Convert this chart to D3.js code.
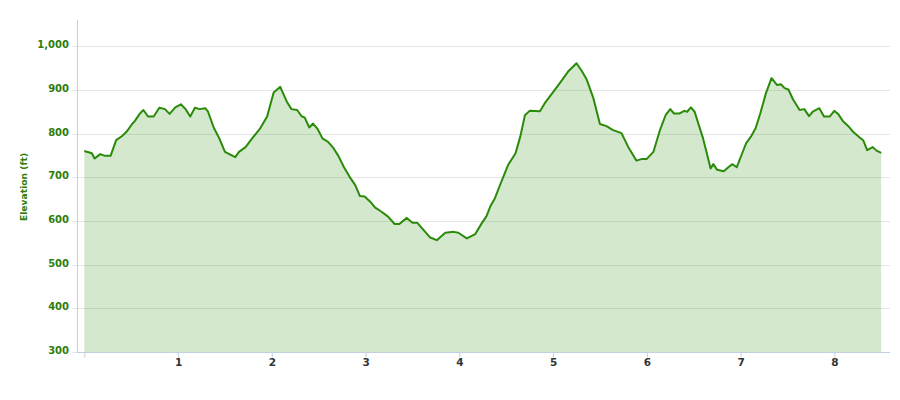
<!DOCTYPE html>
<html>
<head>
<meta charset="utf-8">
<script src="https://cdn.jsdelivr.net/npm/d3@7"></script>
<style>
  html, body { margin: 0; padding: 0; background: #fff; }
  svg { display: block; }
</style>
</head>
<body>
<svg id="chart" width="900" height="400"></svg>
<script>
// Distance (miles)
const distance = [
  0.00, 0.08, 0.11, 0.17, 0.22, 0.28, 0.34, 0.40, 0.45, 0.51, 0.54, 0.59, 0.63, 0.68, 0.74, 0.80, 0.86, 0.91, 0.97,
  1.03, 1.08, 1.13, 1.18, 1.23, 1.29, 1.32, 1.38, 1.44, 1.50, 1.61, 1.65, 1.72, 1.79, 1.87, 1.95,
  2.02, 2.09, 2.16, 2.21, 2.27, 2.32, 2.35, 2.40, 2.44, 2.49, 2.54, 2.60, 2.66, 2.71, 2.77, 2.83, 2.89, 2.94, 2.99,
  3.05, 3.10, 3.17, 3.24, 3.31, 3.36, 3.44, 3.50, 3.55, 3.62, 3.69, 3.76, 3.85, 3.94, 3.99,
  4.08, 4.17, 4.24, 4.29, 4.33, 4.38, 4.43, 4.52, 4.60, 4.65, 4.70, 4.75, 4.86, 4.91, 4.99,
  5.07, 5.16, 5.25, 5.31, 5.36, 5.43, 5.50, 5.57, 5.64, 5.73, 5.80, 5.89, 5.95,
  6.00, 6.07, 6.14, 6.20, 6.25, 6.29, 6.35, 6.40, 6.43, 6.47, 6.51, 6.56, 6.60, 6.64, 6.68, 6.71, 6.75, 6.82, 6.87, 6.91, 6.96,
  7.01, 7.06, 7.11, 7.16, 7.21, 7.27, 7.33, 7.39, 7.43, 7.47, 7.51, 7.56, 7.63, 7.68, 7.73, 7.77, 7.84, 7.89, 7.95,
  8.00, 8.04, 8.09, 8.15, 8.20, 8.27, 8.31, 8.35, 8.41, 8.45, 8.50
];
// Elevation (ft)
const elevation = [
  760, 755, 743, 753, 749, 749, 785, 794, 804, 822, 829, 845, 854, 839, 839, 859, 856, 845, 860,
  867, 856, 839, 859, 856, 858, 850, 814, 789, 758, 746, 758, 769, 789, 810, 839,
  894, 907, 873, 856, 854, 839, 837, 814, 823, 810, 789, 781, 766, 749, 723, 701, 682, 657, 656,
  644, 631, 621, 610, 593, 593, 607, 596, 596, 579, 562, 556, 573, 575, 573,
  560, 570, 595, 611, 633, 652, 680, 728, 755, 793, 842, 852, 851, 869, 892,
  915, 942, 961, 942, 923, 881, 822, 817, 808, 801, 770, 738, 742,
  742, 758, 808, 842, 856, 846, 846, 852, 850, 860, 850, 816, 789, 755, 720, 730, 717, 714, 723, 730, 723,
  751, 778, 793, 812, 846, 892, 927, 911, 913, 904, 901, 878, 854, 856, 840, 850, 858, 839, 839,
  852, 845, 829, 817, 804, 791, 784, 762, 769, 761, 756
];
const xTicks = [0, 1, 2, 3, 4, 5, 6, 7, 8];
const xTickLabels = ["", "1", "2", "3", "4", "5", "6", "7", "8"];
const yTicks = [300, 400, 500, 600, 700, 800, 900, 1000];
const yTitle = "Elevation (ft)";

const data = distance.map((d, i) => ({ x: d, y: elevation[i] }));

const svg = d3.select("#chart");
const plotLeft = 77, plotRight = 890, plotTop = 20, plotBottom = 352;

const x = d3.scaleLinear().domain([0, 8.5]).range([84.3, 881.2]);
const y = d3.scaleLinear().domain([300, 1060]).range([plotBottom, plotTop]);

const green = "#2a8a0a";
const labelGreen = "#2e7d0a";
const axisColor = "#c0d0e0";
const font = "'DejaVu Sans', Verdana, sans-serif";

// gridlines
svg.append("g")
  .selectAll("line")
  .data(yTicks)
  .join("line")
  .attr("x1", plotLeft - 5)
  .attr("x2", plotRight)
  .attr("y1", d => Math.round(y(d)) + 0.5)
  .attr("y2", d => Math.round(y(d)) + 0.5)
  .attr("stroke", "#e6e6e6")
  .attr("stroke-width", 1);

// area
const area = d3.area().x(d => x(d.x)).y0(y(300)).y1(d => y(d.y)).curve(d3.curveLinear);
svg.append("path")
  .datum(data)
  .attr("d", area)
  .attr("fill", green)
  .attr("fill-opacity", 0.2);

// line
const line = d3.line().x(d => x(d.x)).y(d => y(d.y)).curve(d3.curveLinear);
svg.append("path")
  .datum(data)
  .attr("d", line)
  .attr("fill", "none")
  .attr("stroke", green)
  .attr("stroke-width", 2)
  .attr("stroke-linejoin", "round");

// y axis line
svg.append("line")
  .attr("x1", plotLeft + 0.5).attr("x2", plotLeft + 0.5)
  .attr("y1", plotTop).attr("y2", plotBottom)
  .attr("stroke", axisColor);

// x axis
const xAxis = d3.axisBottom(x)
  .tickValues(xTicks)
  .tickFormat((d, i) => xTickLabels[i])
  .tickSize(5)
  .tickPadding(1);
const gx = svg.append("g")
  .attr("transform", `translate(0,${plotBottom + 0.5})`)
  .call(xAxis);
gx.select(".domain").remove();
gx.selectAll(".tick line").attr("stroke", axisColor);
gx.selectAll(".tick text")
  .attr("fill", "#333")
  .style("font-family", font)
  .style("font-size", "10.5px")
  .style("font-weight", "bold");
svg.append("line")
  .attr("x1", plotLeft).attr("x2", plotRight)
  .attr("y1", plotBottom + 0.5).attr("y2", plotBottom + 0.5)
  .attr("stroke", axisColor);

// y axis labels
const yAxis = d3.axisLeft(y)
  .tickValues(yTicks)
  .tickFormat(d3.format(","))
  .tickSize(0)
  .tickPadding(8);
const gy = svg.append("g")
  .attr("transform", `translate(${plotLeft},0)`)
  .call(yAxis);
gy.select(".domain").remove();
gy.selectAll(".tick text")
  .attr("fill", labelGreen)
  .attr("dy", "0.15em")
  .style("font-family", font)
  .style("font-size", "10px")
  .style("font-weight", "bold");

// y title
svg.append("text")
  .attr("transform", `translate(27,${187}) rotate(-90)`)
  .attr("text-anchor", "middle")
  .attr("fill", labelGreen)
  .style("font-family", font)
  .style("font-size", "9.2px")
  .style("font-weight", "bold")
  .text(yTitle);
</script>
</body>
</html>
